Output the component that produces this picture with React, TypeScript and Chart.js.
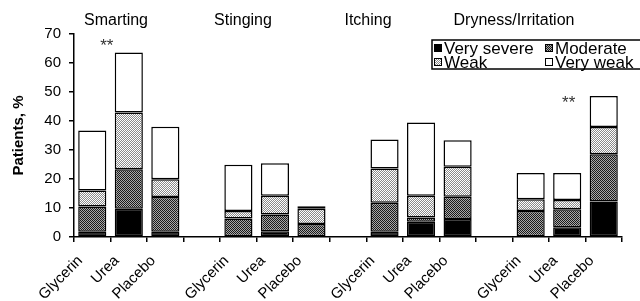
import React, { useEffect, useRef } from "react";
import { Chart, registerables } from "chart.js";

Chart.register(...registerables);

const categories = [
  "Glycerin", "Urea", "Placebo", "",
  "Glycerin", "Urea", "Placebo", "",
  "Glycerin", "Urea", "Placebo", "",
  "Glycerin", "Urea", "Placebo",
];
const groupTitles = ["Smarting", "Stinging", "Itching", "Dryness/Irritation"];
const seriesNames = ["Very severe", "Moderate", "Weak", "Very weak"];
const verySevere = [1.8, 9.7, 1.8, null, 0, 2, 0, null, 1.8, 5.3, 6.2, null, 0, 3.4, 12.2];
const moderate = [8.7, 13.7, 12, null, 6.4, 5.8, 4.5, null, 10, 1.4, 7.7, null, 9, 6.2, 16.3];
const weak = [5.5, 19.5, 6.1, null, 2.6, 6.4, 5.2, null, 11.8, 7.5, 10.3, null, 4, 3.2, 9.4];
const veryWeak = [20.7, 20.7, 18.1, null, 15.9, 11.2, 0.9, null, 10, 25.3, 9.2, null, 9.1, 9.3, 10.7];
const significance = ["", "**", "", "", "", "", "", "", "", "", "", "", "", "", "**"];
const significanceLevel = [0, 66.9, 0, 0, 0, 0, 0, 0, 0, 0, 0, 0, 0, 0, 47.2];
const yMin = 0;
const yMax = 70;
const yStep = 10;
const yTitle = "Patients, %";

const FONT = "'Liberation Sans', Arial, Helvetica, sans-serif";

function makeChecker(a: string, b: string) {
  const c = document.createElement("canvas");
  c.width = 2;
  c.height = 2;
  const g = c.getContext("2d")!;
  g.fillStyle = a;
  g.fillRect(0, 0, 2, 2);
  g.fillStyle = b;
  g.fillRect(1, 0, 1, 1);
  g.fillRect(0, 1, 1, 1);
  return g.createPattern(c, "repeat")!;
}

export default function App() {
  const ref = useRef<HTMLCanvasElement | null>(null);

  useEffect(() => {
    document.body.style.margin = "0";
    const canvas = ref.current!;
    const ctx = canvas.getContext("2d")!;
    const modPat = makeChecker("#1a1a1a", "#a8a8a8");
    const weakPat = makeChecker("#ffffff", "#8a8a8a");
    const fills = ["#000000", modPat, weakPat, "#ffffff"];
    const data = [verySevere, moderate, weak, veryWeak];

    const textPlugin = {
      id: "textPlugin",
      afterDraw(chart: any) {
        const c = chart.ctx;
        const xs = chart.scales.x;
        const ys = chart.scales.y;
        c.save();
        c.fillStyle = "#000";
        // group titles
        c.font = `16px ${FONT}`;
        c.textAlign = "center";
        c.textBaseline = "middle";
        const titleX = [116, 243, 368, 514];
        groupTitles.forEach((t, i) => c.fillText(t, titleX[i], 21));
        // y axis title
        c.save();
        c.translate(19, (ys.top + ys.bottom) / 2);
        c.rotate(-Math.PI / 2);
        c.font = `bold 15px ${FONT}`;
        c.fillText(yTitle, 0, 0);
        c.restore();
        // significance marks
        c.font = `17px ${FONT}`;
        c.fillStyle = "#333";
        const markShift: Record<number, number> = { 1: -22, 14: -35 };
        significance.forEach((s, i) => {
          if (!s) return;
          c.fillText(s, xs.getPixelForValue(i) + (markShift[i] ?? -22), ys.getPixelForValue(significanceLevel[i]) + 3);
        });
        // legend
        const lx = 432, ly = 40, lw = 210, lh = 29;
        c.fillStyle = "#fff";
        c.fillRect(lx, ly, lw, lh);
        c.strokeStyle = "#000";
        c.lineWidth = 1.5;
        c.strokeRect(lx, ly, lw, lh);
        c.font = `17px ${FONT}`;
        c.textAlign = "left";
        const pos = [[lx + 2, ly + 8], [lx + 113, ly + 8], [lx + 2, ly + 22], [lx + 113, ly + 22]];
        seriesNames.forEach((n, i) => {
          const [px, py] = pos[i];
          c.fillStyle = fills[i] as any;
          c.fillRect(px, py - 4, 8, 8);
          c.lineWidth = 1;
          c.strokeStyle = "#000";
          c.strokeRect(px + 0.5, py - 3.5, 7, 7);
          c.fillStyle = "#000";
          c.fillText(n, px + 10, py + 1);
        });
        c.restore();
      },
    };

    const chart = new Chart(ctx, {
      type: "bar",
      data: {
        labels: categories,
        datasets: data.map((d, i) => ({
          label: seriesNames[i],
          data: d as any,
          backgroundColor: fills[i] as any,
          borderColor: "#000",
          borderWidth: 1.5,
          borderSkipped: false,
          barPercentage: 0.77,
          categoryPercentage: 1,
        })),
      },
      options: {
        responsive: false,
        animation: false,
        devicePixelRatio: 1,
        layout: { padding: { top: 34, right: 18, left: 0, bottom: 0 } },
        plugins: { legend: { display: false }, tooltip: { enabled: false } },
        scales: {
          x: {
            stacked: true,
            afterFit: (s: any) => { s.height = 64; },
            border: { color: "#000", width: 1.5 },
            grid: { drawOnChartArea: false, color: "#000", tickLength: 5, lineWidth: 1.5, offset: true },
            ticks: { color: "#000", font: { family: FONT, size: 15 }, minRotation: 45, maxRotation: 45, padding: 10, labelOffset: -12, autoSkip: false },
          },
          y: {
            stacked: true,
            min: yMin,
            max: yMax,
            afterFit: (s: any) => { s.width = 74; },
            border: { color: "#000", width: 1.5 },
            grid: { drawOnChartArea: false, color: "#000", tickLength: 5, lineWidth: 1.5 },
            ticks: { stepSize: yStep, color: "#000", font: { family: FONT, size: 15 }, padding: 8 },
          },
        },
      },
      plugins: [textPlugin],
    });
    return () => chart.destroy();
  }, []);

  return (
    <div style={{ width: 640, height: 301, background: "#fff" }}>
      <canvas ref={ref} width={640} height={301} />
    </div>
  );
}
